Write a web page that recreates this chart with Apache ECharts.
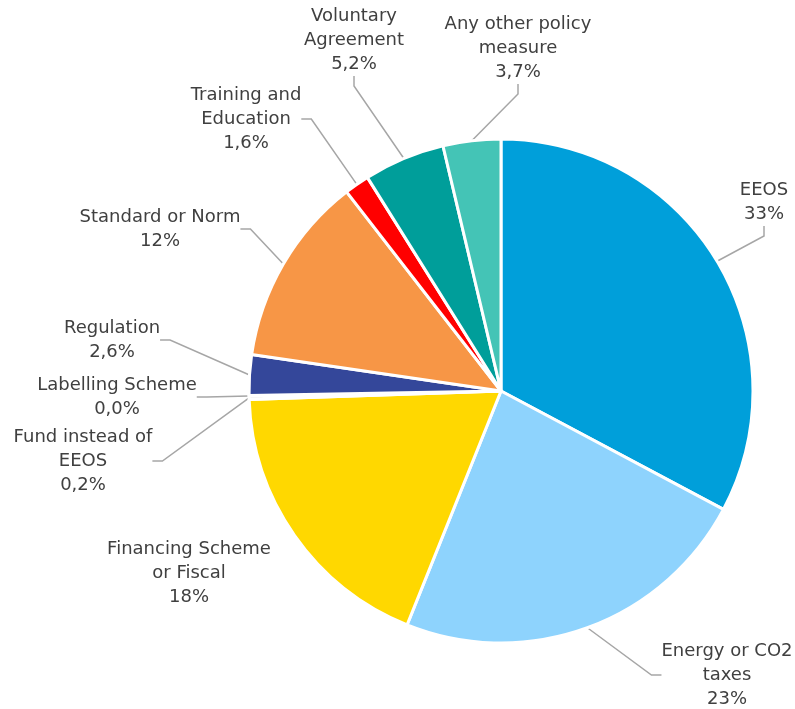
<!DOCTYPE html>
<html>
<head>
<meta charset="utf-8">
<title>Policy measures</title>
<script src="https://cdn.jsdelivr.net/npm/echarts@6/dist/echarts.min.js"></script>
<style>
  html, body { margin: 0; padding: 0; background: #fff; }
  #chart { width: 795px; height: 709px; }
</style>
</head>
<body>
<div id="chart"></div>
<script>
const categories = [
  'EEOS',
  'Energy or CO2\ntaxes',
  'Financing Scheme\nor Fiscal',
  'Fund instead of\nEEOS',
  'Labelling Scheme',
  'Regulation',
  'Standard or Norm',
  'Training and\nEducation',
  'Voluntary\nAgreement',
  'Any other policy\nmeasure'
]
const shares = [32.8, 23.3, 18.4, 0.2, 0.04, 2.6, 12.2, 1.6, 5.2, 3.7]
const shareLabels = ['33%', '23%', '18%', '0,2%', '0,0%', '2,6%', '12%', '1,6%', '5,2%', '3,7%']

const colors = ['#009fda', '#8ed3fd', '#ffd800', '#7f7f7f', '#7030a0', '#34479a', '#f79646', '#ff0000', '#009e9a', '#44c4b6']
// label block centres (page px)
const labelPos = [
  [764, 202], [727, 675], [189, 573], [83, 461], [117, 397],
  [112, 340], [160, 229], [246, 119], [354, 40], [518, 48]
]
// Financing label sits close to its slice: no leader line there
const noLeader = [2]

const chart = echarts.init(document.getElementById('chart'))

chart.setOption({
  backgroundColor: '#fff',
  animation: false,
  series: [
    {
      type: 'pie',
      center: [501, 391],
      radius: [0, 252],
      startAngle: 90,
      clockwise: true,
      avoidLabelOverlap: false,
      data: categories.map((name, i) => ({
        name,
        value: shares[i],
        itemStyle: { color: colors[i] },
        labelLine: { show: !noLeader.includes(i) }
      })),
      itemStyle: { borderColor: '#fff', borderWidth: 3 },
      label: {
        show: true,
        formatter: (p) => p.name + '\n' + shareLabels[p.dataIndex],
        color: '#404040',
        fontFamily: 'DejaVu Sans',
        fontSize: 18,
        lineHeight: 24,
        align: 'center'
      },
      labelLine: {
        show: true,
        length: 20,
        length2: 10,
        lineStyle: { color: '#a6a6a6', width: 1.5 }
      },
      labelLayout: (params) => {
        const p = labelPos[params.dataIndex]
        return { x: p[0], y: p[1], align: 'center', verticalAlign: 'middle' }
      },
      emphasis: { disabled: true }
    }
  ]
})

window.addEventListener('resize', () => chart.resize())
</script>
</body>
</html>
